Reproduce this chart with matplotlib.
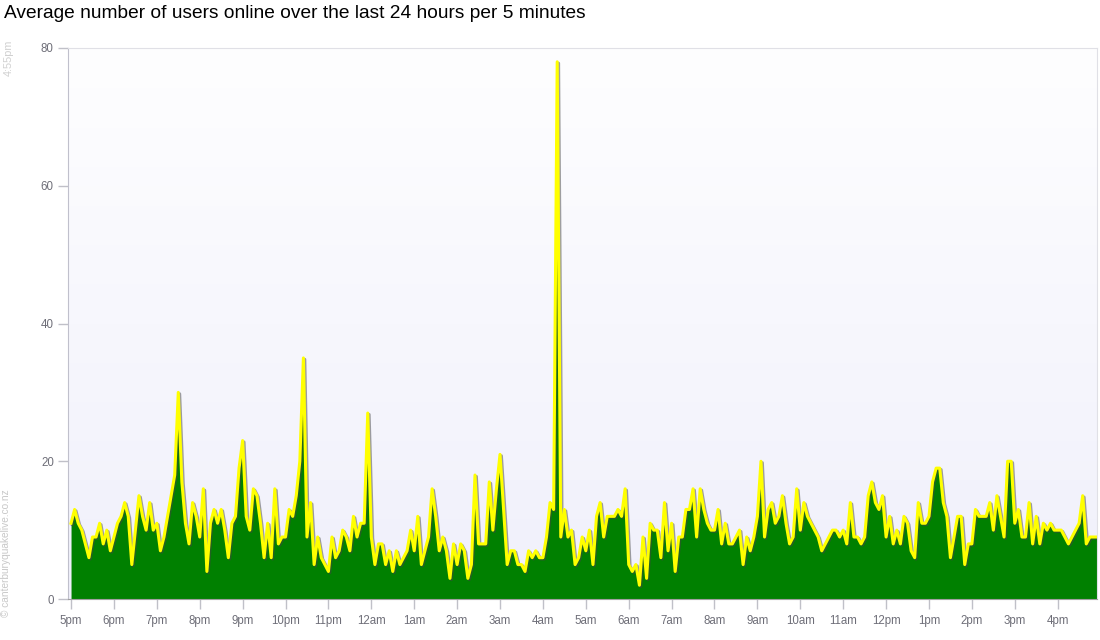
import numpy as np
import matplotlib
matplotlib.use("Agg")
import matplotlib.pyplot as plt
import matplotlib.patheffects as pe
from matplotlib.colors import LinearSegmentedColormap

plt.rcParams['font.family'] = ['Liberation Sans', 'DejaVu Sans']

# hour labels, one per 12 samples
hour_labels = ['5pm', '6pm', '7pm', '8pm', '9pm', '10pm', '11pm', '12am',
               '1am', '2am', '3am', '4am', '5am', '6am', '7am', '8am',
               '9am', '10am', '11am', '12pm', '1pm', '2pm', '3pm', '4pm']

# average users online, one value per 5 minutes (12 per hour)
users = [
    11, 13, 11, 10, 8, 6, 9, 9, 11, 8, 10, 7,        # 5pm
    9, 11, 12, 14, 12, 5, 10, 15, 12, 10, 14, 10,    # 6pm
    11, 7, 9, 12, 15, 18, 30, 17, 11, 8, 14, 12,     # 7pm
    9, 16, 4, 11, 13, 11, 13, 10, 6, 11, 12, 19,     # 8pm
    23, 12, 10, 16, 15, 11, 6, 11, 6, 16, 8, 9,      # 9pm
    9, 13, 12, 15, 20, 35, 9, 14, 5, 9, 6, 5,        # 10pm
    4, 9, 6, 7, 10, 9, 7, 12, 9, 11, 11, 27,         # 11pm
    9, 5, 8, 8, 5, 7, 4, 7, 5, 6, 7, 10,             # 12am
    7, 12, 5, 7, 9, 16, 12, 7, 9, 7, 3, 8,           # 1am
    5, 8, 7, 3, 5, 18, 8, 8, 8, 17, 10, 16,          # 2am
    21, 13, 5, 7, 7, 5, 5, 4, 7, 6, 7, 6,            # 3am
    6, 9, 14, 13, 78, 9, 13, 9, 10, 5, 6, 9,         # 4am
    7, 10, 5, 12, 14, 9, 12, 12, 12, 13, 12, 16,     # 5am
    5, 4, 5, 2, 9, 3, 11, 10, 10, 6, 14, 7,          # 6am
    11, 4, 9, 9, 13, 13, 16, 9, 16, 13, 11, 10,      # 7am
    10, 13, 8, 11, 8, 8, 9, 10, 5, 9, 7, 9,          # 8am
    12, 20, 9, 13, 14, 11, 12, 15, 11, 8, 9, 16,     # 9am
    10, 14, 12, 11, 10, 9, 7, 8, 9, 10, 10, 9,       # 10am
    10, 8, 14, 9, 9, 8, 9, 15, 17, 14, 13, 15,       # 11am
    9, 12, 8, 10, 8, 12, 11, 7, 6, 14, 11, 11,       # 12pm
    12, 17, 19, 19, 14, 12, 6, 9, 12, 12, 5, 8,      # 1pm
    8, 13, 12, 12, 12, 14, 10, 15, 12, 9, 20, 20,    # 2pm
    11, 13, 9, 9, 14, 8, 12, 8, 11, 10, 11, 10,      # 3pm
    10, 10, 9, 8, 9, 10, 11, 15, 8, 9, 9, 9,         # 4pm
]
y_ticks = [0, 20, 40, 60, 80]

x = np.arange(len(users))

fig = plt.figure(figsize=(11, 6.4), dpi=100)
ax = fig.add_axes([68 / 1100, 41 / 640, (1097 - 68) / 1100, (599 - 48) / 640])

xmin, xmax = -0.85, len(users) - 1
ax.set_xlim(xmin, xmax)
ax.set_ylim(0, 80)

# background gradient, lavender at bottom to white at top
bg = LinearSegmentedColormap.from_list('bg', ['#f0f0fb', '#fefeff'])
ax.imshow(np.linspace(0, 1, 256).reshape(-1, 1), cmap=bg, origin='lower',
          extent=[xmin, xmax, 0, 80], aspect='auto', zorder=0)

ax.fill_between(x, users, 0, color='#008000', linewidth=0, zorder=2)
ax.plot(x, users, color='#ffff00', linewidth=2.2, zorder=3,
        path_effects=[pe.SimpleLineShadow(offset=(1, -1), shadow_color='#444444', alpha=0.5),
                      pe.Normal()])

ax.set_xticks(x[::12])
ax.set_xticklabels(hour_labels)
ax.set_yticks(y_ticks)
ax.tick_params(axis='both', colors='#c0c0c8', labelcolor='#6e6e78', labelsize=8.3,
               length=7.2, width=1)
ax.tick_params(axis='y', pad=3)
ax.tick_params(axis='x', pad=4)

ax.spines['left'].set_color('#c0c0cc')
ax.spines['bottom'].set_color('#a0a0a0')
ax.spines['top'].set_color('#e0e0e6')
ax.spines['right'].set_color('#e0e0e6')

fig.text(0.004, 1 - 18.5 / 640, 'Average number of users online over the last 24 hours per 5 minutes',
         fontsize=13.8, color='#000000', va='baseline', ha='left')
fig.text(8.5 / 1100, 1 - 58 / 640, '4:55pm', rotation=90, fontsize=7.8,
         color='#d0d0d0', ha='center', va='center')
fig.text(6.5 / 1100, 1 - 553 / 640, '\u00a9 canterburyquakelive.co.nz', rotation=90,
         fontsize=7.3, color='#c8c8c8', ha='center', va='center')

fig.savefig('out.png', dpi=100)
